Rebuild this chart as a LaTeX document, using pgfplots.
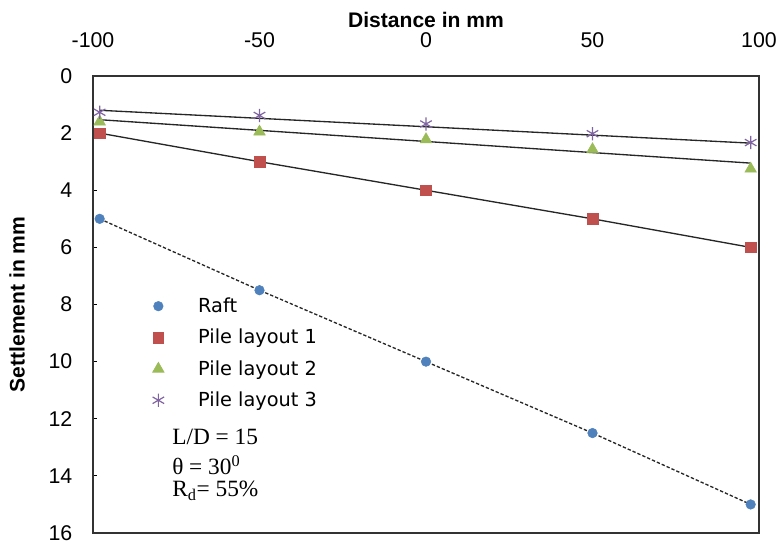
\documentclass[border=0pt]{standalone}
\usepackage{fontspec}
\setmainfont{Liberation Sans}
\newfontfamily\legfont{DejaVu Sans}
\newfontfamily\serfont{Liberation Serif}
\usepackage{pgfplots}
\pgfplotsset{compat=1.18}

\definecolor{raftblue}{HTML}{4F81BD}
\definecolor{pilered}{HTML}{C0504D}
\definecolor{pilegreen}{HTML}{9BBB59}
\definecolor{pilepurple}{HTML}{8064A2}

\begin{document}
\begin{tikzpicture}
\begin{axis}[
    name=ax,
    width=499.5pt, height=342.75pt,
    scale only axis,
    xmin=-100, xmax=100,
    ymin=0, ymax=16,
    y dir=reverse,
    xtick={-100,-50,0,50,100},
    ytick={0,2,...,16},
    xticklabel pos=right,
    ytick pos=left,
    xtick style={draw=none},
    tick align=inside,
    major tick length=3pt,
    ytick style={black, line width=0.8pt},
    axis line style={black!80, line width=1pt},
    /pgf/number format/assume math mode=true,
    ticklabel style={font=\fontsize{16}{19}\selectfont},
    xticklabel style={yshift=18pt},
    yticklabel style={xshift=-12pt},
    xlabel={\textbf{Distance in mm}},
    ylabel={\textbf{Settlement in mm}},
    xlabel style={at={(axis description cs:0.5,1)}, anchor=center, yshift=42pt, font=\fontsize{15.8}{18}\selectfont},
    ylabel style={at={(axis description cs:0,0.5)}, anchor=center, yshift=57pt, font=\fontsize{15.8}{18}\selectfont},
    legend style={draw=none, fill=none, at={(0.0835,0.521)}, anchor=north west,
        font=\legfont\fontsize{14.5}{17}\selectfont, row sep=7pt, inner sep=0pt},
    legend cell align=left,
    legend image code/.code={\path[draw=none, fill=none] (0cm,0cm) -- (1.23cm,0cm); \path[#1] plot coordinates {(0.25cm,0cm)};},
]
% trend lines
\addplot[black!85, line width=1pt, dash pattern=on 2.5pt off 1.5pt, forget plot]
  coordinates {(-98,5) (-50,7.5) (0,10) (50,12.5) (97.5,15)};
\addplot[black!85, line width=1pt, forget plot]
  coordinates {(-98,2) (-50,3) (0,4) (50,5) (97.5,6)};
\addplot[black!85, line width=1pt, forget plot]
  coordinates {(-98,1.53) (97.5,3.05)};
\addplot[black!85, line width=1pt, forget plot]
  coordinates {(-98,1.2) (97.5,2.35)};
% data
\addplot[only marks, mark=*, mark size=3.6pt, raftblue, mark options={fill=raftblue, draw=raftblue}]
  coordinates {(-98,5) (-50,7.5) (0,10) (50,12.5) (97.5,15)};
\addlegendentry{Raft}
\addplot[only marks, mark=square*, mark size=4pt, pilered, mark options={fill=pilered, draw=pilered}]
  coordinates {(-98,2) (-50,3) (0,4) (50,5) (97.5,6)};
\addlegendentry{Pile layout 1}
\addplot[only marks, mark=triangle*, mark size=5pt, pilegreen, mark options={fill=pilegreen, draw=pilegreen}]
  coordinates {(-98,1.6) (-50,1.95) (0,2.22) (50,2.57) (97.5,3.25)};
\addlegendentry{Pile layout 2}
\addplot[only marks, mark=asterisk, mark size=5pt, pilepurple, mark options={line width=0.9pt}]
  coordinates {(-98,1.27) (-50,1.38) (0,1.68) (50,2.02) (97.5,2.33)};
\addlegendentry{Pile layout 3}

\node[anchor=west, font=\serfont\fontsize{17.5}{20}\selectfont, inner sep=0pt] at (axis description cs:0.1186,0.21) {L/D = 15};
\node[anchor=west, font=\serfont\fontsize{17.5}{20}\selectfont, inner sep=0pt] at (axis description cs:0.1186,0.149) {θ = 30\textsuperscript{0}};
\node[anchor=west, font=\serfont\fontsize{17.5}{20}\selectfont, inner sep=0pt] at (axis description cs:0.1186,0.092) {R\textsubscript{d}= 55\%};
\end{axis}
\pgfresetboundingbox
\path (ax.south west) ++(-69.75pt,-8.25pt) rectangle ++(584.25pt,408pt);
\end{tikzpicture}
\end{document}
